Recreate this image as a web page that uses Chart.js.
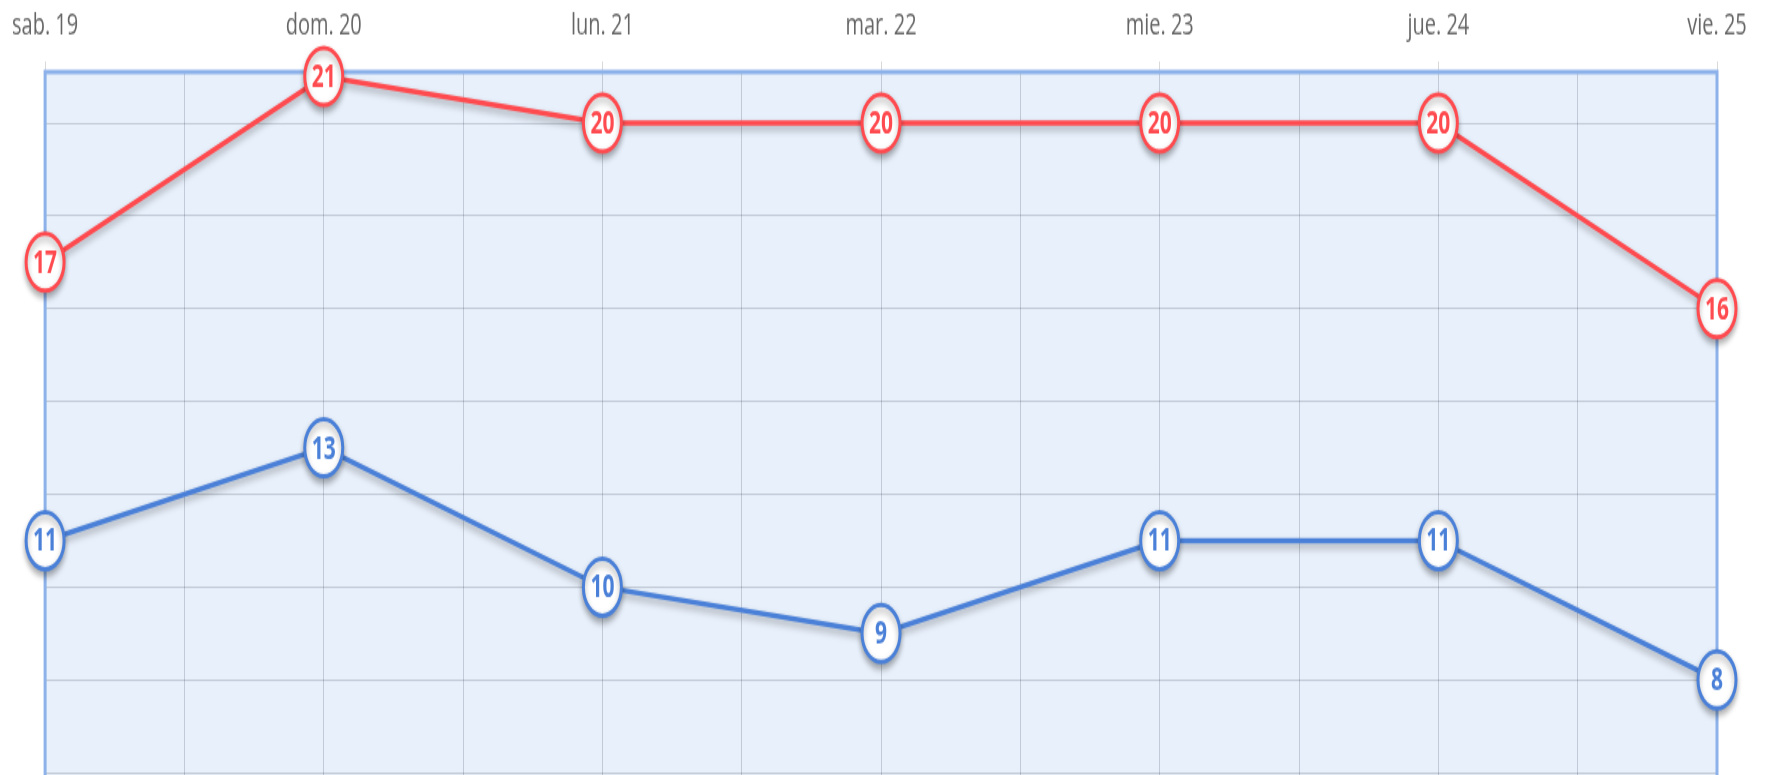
<!DOCTYPE html>
<html>
<head>
<meta charset="utf-8">
<script src="https://cdn.jsdelivr.net/npm/chart.js@4"></script>
<style>
  html, body { margin: 0; padding: 0; background: #fff; overflow: hidden; width: 1770px; height: 775px; }
  #chart { position: absolute; left: 0; top: 0; transform: scaleY(1.5); transform-origin: 0 0; }
</style>
</head>
<body>
<canvas id="chart" width="1770" height="599"></canvas>
<script>
const days = ['sab. 19', 'dom. 20', 'lun. 21', 'mar. 22', 'mie. 23', 'jue. 24', 'vie. 25'];
const redValues = [17, 21, 20, 20, 20, 20, 16];
const blueValues = [11, 13, 10, 9, 11, 11, 8];

const RED = '#ff4b4f';
const BLUE = '#4a80d8';

// light blue plot background + blue frame, under the lines
const areaPlugin = {
  id: 'area',
  beforeDraw(chart) {
    const { ctx, chartArea: a } = chart;
    ctx.save();
    ctx.fillStyle = '#e8f0fb';
    ctx.fillRect(a.left, a.top, a.right - a.left, a.bottom - a.top);
    ctx.restore();
  },
  beforeDatasetsDraw(chart) {
    const { ctx, chartArea: a } = chart;
    ctx.save();
    ctx.strokeStyle = '#8db2ea';
    ctx.lineWidth = 3;
    ctx.strokeRect(a.left, a.top, a.right - a.left, a.bottom - a.top);
    ctx.restore();
  },
  // soft shadow below lines and circles
  beforeDatasetDraw(chart) {
    const ctx = chart.ctx;
    ctx.save();
    ctx.shadowColor = 'rgba(0,0,0,0.3)';
    ctx.shadowBlur = 5;
    ctx.shadowOffsetY = 3;
  },
  afterDatasetDraw(chart) {
    chart.ctx.restore();
  },
  // values written inside the points
  afterDatasetsDraw(chart) {
    const ctx = chart.ctx;
    ctx.save();
    ctx.font = 'bold 21px "Open Sans"';
    ctx.textAlign = 'center';
    ctx.textBaseline = 'middle';
    chart.data.datasets.forEach((ds, i) => {
      const meta = chart.getDatasetMeta(i);
      ctx.fillStyle = ds.borderColor;
      meta.data.forEach((pt, j) => {
        ctx.fillText(String(ds.data[j]), pt.x, pt.y + 1);
      });
    });
    ctx.restore();
  }
};

new Chart(document.getElementById('chart'), {
  type: 'line',
  data: {
    labels: days,
    datasets: [
      {
        data: redValues,
        borderColor: RED,
        borderWidth: 3.5,
        pointRadius: 19,
        pointHoverRadius: 19,
        pointBorderWidth: 3,
        pointBackgroundColor: '#fff',
        pointBorderColor: RED,
        clip: false
      },
      {
        data: blueValues,
        borderColor: BLUE,
        borderWidth: 3.5,
        pointRadius: 19,
        pointHoverRadius: 19,
        pointBorderWidth: 3,
        pointBackgroundColor: '#fff',
        pointBorderColor: BLUE,
        clip: false
      }
    ]
  },
  options: {
    responsive: false,
    animation: false,
    events: [],
    layout: { padding: { left: 44, right: 53, top: -7, bottom: 0 } },
    plugins: { legend: { display: false }, tooltip: { enabled: false } },
    scales: {
      x: {
        position: 'top',
        border: { display: false },
        grid: { drawOnChartArea: false, tickLength: 7, color: 'rgba(0,0,0,0.15)' },
        ticks: { padding: 12, color: '#666', font: { family: 'Open Sans', size: 20 }, maxRotation: 0 }
      },
      // half-day vertical grid
      xgrid: {
        type: 'linear',
        position: 'bottom',
        min: 0,
        max: 6,
        border: { display: false },
        grid: { drawTicks: false, color: 'rgba(40,50,70,0.2)', lineWidth: 1 },
        ticks: { display: false, stepSize: 0.5 }
      },
      y: {
        min: 4,
        max: 21.1,
        border: { display: false },
        grid: { drawTicks: false, color: 'rgba(40,50,70,0.2)', lineWidth: 1 },
        ticks: { display: false, stepSize: 2, includeBounds: false }
      }
    }
  },
  plugins: [areaPlugin]
});
</script>
</body>
</html>
